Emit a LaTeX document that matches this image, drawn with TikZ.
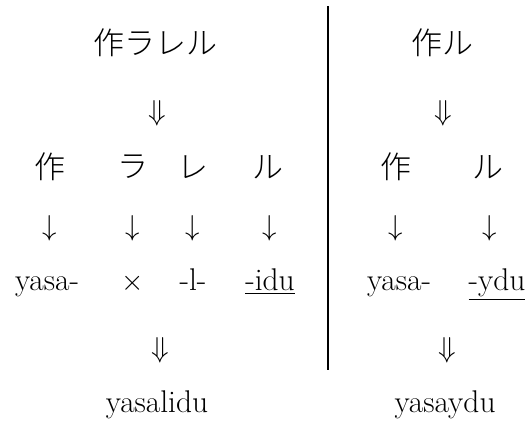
\documentclass[tikz,border=0pt]{standalone}
\usepackage{fontspec}
\newfontfamily\jpfont{Noto Sans CJK JP Light}
\usetikzlibrary{positioning}
\tikzstyle{word} = [inner sep=1pt, anchor=base, font=\fontsize{15.7}{18}\selectfont\addfontfeature{FakeBold=0.6}]
\tikzstyle{kana} = [inner sep=1pt, font=\fontsize{15.5}{18}\selectfont\jpfont]
\tikzstyle{arr} = [inner sep=1pt, font=\fontsize{15.7}{18}\selectfont]
\tikzstyle{divider} = [line width=0.6pt]

\begin{document}
\begin{tikzpicture}[x=0.5pt, y=-0.5pt]
                \useasboundingbox (0,0) rectangle (529,425);

                % left: 作ラレル
                \node (L0) [kana] at (155,43) {作ラレル};
                \node (Ld1) [arr] at (157,113) {$\Downarrow$};
                \node (L1) [kana] at (50,167) {作};
                \node (L2) [kana] at (133,167) {ラ};
                \node (L3) [kana] at (193,167) {レ};
                \node (L4) [kana] at (268,167) {ル};
                \node (La1) [arr] at (50,228) {$\downarrow$};
                \node (La2) [arr] at (133,228) {$\downarrow$};
                \node (La3) [arr] at (193,228) {$\downarrow$};
                \node (La4) [arr] at (270,228) {$\downarrow$};
                \node (Lw1) [word] at (47,290) {yasa-};
                \node (Lw2) [word] at (133,290) {$\times$};
                \node (Lw3) [word] at (193,290) {-l-};
                \node (Lw4) [word] at (270,290) {\underline{-idu}};
                \node (Ld2) [arr] at (160,350) {$\Downarrow$};
                \node (Lres) [word] at (157,412) {yasalidu};

                % divider
                \coordinate (top) at (328,6);
                \coordinate (bot) at (328,370);
                \draw [divider] (top) -- (bot);

                % right: 作ル
                \node (R0) [kana] at (442,43) {作ル};
                \node (Rd1) [arr] at (443,113) {$\Downarrow$};
                \node (R1) [kana] at (396,167) {作};
                \node (R2) [kana] at (488,167) {ル};
                \node (Ra1) [arr] at (396,228) {$\downarrow$};
                \node (Ra2) [arr] at (490,228) {$\downarrow$};
                \node (Rw1) [word] at (399,290) {yasa-};
                \node (Rw2) [word] at (497,290) {\underline{-ydu}};
                \node (Rd2) [arr] at (447,350) {$\Downarrow$};
                \node (Rres) [word] at (445,412) {yasaydu};
            \end{tikzpicture}
\end{document}
